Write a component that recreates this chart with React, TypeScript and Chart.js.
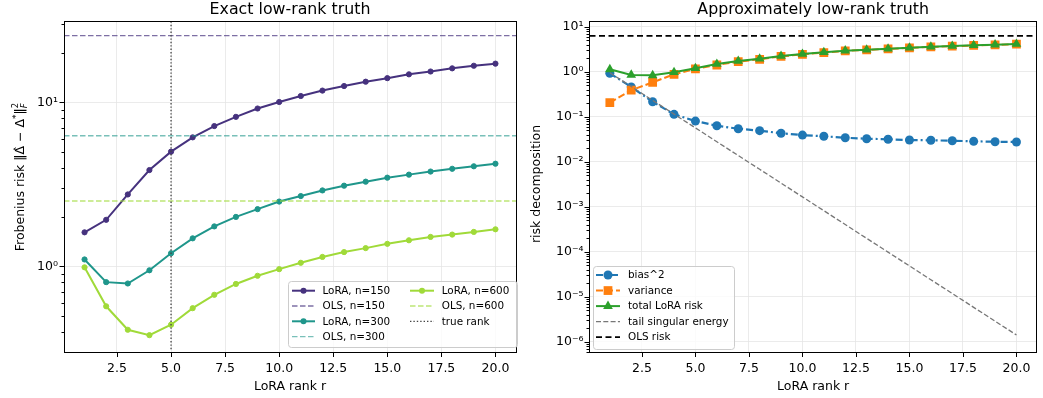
import React, { useEffect, useRef } from "react";
import { Chart, registerables } from "chart.js";

Chart.register(...registerables);

// ---------------- data ----------------
const ranks = [1, 2, 3, 4, 5, 6, 7, 8, 9, 10, 11, 12, 13, 14, 15, 16, 17, 18, 19, 20];

const loraN150 = [1.61, 1.92, 2.74, 3.86, 5.0, 6.11, 7.16, 8.15, 9.16, 10.04, 10.92, 11.78, 12.56, 13.35, 14.03, 14.8, 15.4, 16.1, 16.7, 17.2];
const loraN300 = [1.1, 0.8, 0.785, 0.945, 1.2, 1.48, 1.75, 2.0, 2.23, 2.48, 2.68, 2.9, 3.1, 3.28, 3.47, 3.62, 3.78, 3.93, 4.07, 4.22];
const loraN600 = [0.985, 0.57, 0.41, 0.38, 0.44, 0.555, 0.67, 0.78, 0.875, 0.96, 1.05, 1.14, 1.22, 1.29, 1.37, 1.44, 1.51, 1.56, 1.62, 1.68];
const olsN150 = 25.5;
const olsN300 = 6.25;
const olsN600 = 2.5;
const trueRank = 5;

const bias2 = [0.92, 0.46, 0.215, 0.113, 0.08, 0.063, 0.054, 0.049, 0.043, 0.039, 0.0367, 0.0341, 0.0324, 0.0315, 0.0303, 0.0299, 0.0293, 0.0284, 0.0278, 0.0274];
const variance = [0.205, 0.39, 0.58, 0.875, 1.15, 1.41, 1.68, 1.89, 2.19, 2.43, 2.66, 2.9, 3.05, 3.21, 3.38, 3.56, 3.69, 3.83, 3.95, 4.1];
const totalRisk = [1.13, 0.85, 0.83, 0.97, 1.19, 1.48, 1.73, 1.94, 2.23, 2.47, 2.7, 2.93, 3.08, 3.24, 3.41, 3.59, 3.72, 3.86, 3.98, 4.13];
const tailEnergy = [0.95, 0.469, 0.231, 0.114, 0.0564, 0.0278, 0.0137, 0.00678, 0.00335, 0.00165, 8.15e-4, 4.02e-4, 1.98e-4, 9.79e-5, 4.83e-5, 2.38e-5, 1.18e-5, 5.8e-6, 2.86e-6, 1.41e-6];
const olsRisk = 6.25;

const xTickValues = [2.5, 5, 7.5, 10, 12.5, 15, 17.5, 20];
const xMin = 0.05;
const xMax = 20.95;
const leftYMin = 0.312;
const leftYMax = 31.3;
const rightYMin = 5.9e-7;
const rightYMax = 13.4;

// ---------------- helpers ----------------
const FONT = "'DejaVu Sans', sans-serif";
const GRID = "#e6e6e6";

const c150 = "#46327e";
const c300 = "#1f968b";
const c600 = "#a0da39";
const c150a = "rgba(70,50,126,0.7)";
const c300a = "rgba(31,150,139,0.6)";
const c600a = "rgba(160,218,57,0.7)";
const cBlue = "#1f77b4";
const cOrange = "#ff7f0e";
const cGreen = "#2ca02c";

function isPow10(v: number) {
  const l = Math.log10(v);
  return Math.abs(l - Math.round(l)) < 1e-6;
}
const SUP: Record<string, string> = { "-": "\u207B", "0": "\u2070", "1": "\u00B9", "2": "\u00B2", "3": "\u00B3", "4": "\u2074", "5": "\u2075", "6": "\u2076", "7": "\u2077", "8": "\u2078", "9": "\u2079" };
function powLabel(v: number) {
  const e = Math.round(Math.log10(v));
  return "10" + String(e).split("").map((ch) => SUP[ch]).join("");
}
function logTicks(min: number, max: number) {
  const out: number[] = [];
  for (let e = Math.floor(Math.log10(min)); e <= Math.ceil(Math.log10(max)); e++) {
    for (let m = 1; m <= 9; m++) {
      const v = m * Math.pow(10, e);
      if (v >= min && v <= max) out.push(v);
    }
  }
  return out;
}
const pts = (ys: number[]) => ranks.map((r, i) => ({ x: r, y: ys[i] }));
const hline = (y: number) => [{ x: xMin, y }, { x: xMax, y }];

type Part = { t: string; size?: number; dy?: number; italic?: boolean; stack?: Part };

function drawParts(ctx: CanvasRenderingContext2D, parts: Part[], cx: number, cy: number, rotate: boolean) {
  ctx.save();
  ctx.translate(cx, cy);
  if (rotate) ctx.rotate(-Math.PI / 2);
  ctx.textBaseline = "alphabetic";
  ctx.textAlign = "left";
  ctx.fillStyle = "#000";
  const fontOf = (p: Part) => `${p.italic ? "italic " : ""}${p.size ?? 12.5}px ${FONT}`;
  const widths = parts.map((p) => {
    ctx.font = fontOf(p);
    let w = ctx.measureText(p.t).width;
    if (p.stack) {
      ctx.font = fontOf(p.stack);
      w = Math.max(w, ctx.measureText(p.stack.t).width);
    }
    return w;
  });
  const total = widths.reduce((a, b) => a + b, 0);
  let x = -total / 2;
  parts.forEach((p, i) => {
    ctx.font = fontOf(p);
    ctx.fillText(p.t, x, p.dy ?? 0);
    if (p.stack) {
      ctx.font = fontOf(p.stack);
      ctx.fillText(p.stack.t, x, p.stack.dy ?? 0);
    }
    x += widths[i];
  });
  ctx.restore();
}

function drawMarker(ctx: CanvasRenderingContext2D, kind: string, x: number, y: number, r: number, color: string) {
  ctx.fillStyle = color;
  ctx.beginPath();
  if (kind === "circle") ctx.arc(x, y, r, 0, Math.PI * 2);
  else if (kind === "rect") {
    const s = r * Math.SQRT1_2;
    ctx.rect(x - s, y - s, 2 * s, 2 * s);
  } else if (kind === "triangle") {
    ctx.moveTo(x, y - r);
    ctx.lineTo(x + r * Math.sin((2 * Math.PI) / 3), y - r * Math.cos((2 * Math.PI) / 3));
    ctx.lineTo(x + r * Math.sin((4 * Math.PI) / 3), y - r * Math.cos((4 * Math.PI) / 3));
    ctx.closePath();
  }
  ctx.fill();
}

type LegItem = { label: string; color: string; width: number; dash: number[]; marker?: string; r?: number };
type LegCol = { hx0: number; hx1: number; tx: number; items: LegItem[] };
type Legend = { box: { x: number; y: number; w: number; h: number }; y0: number; step: number; cols: LegCol[] };

function drawLegend(ctx: CanvasRenderingContext2D, lg: Legend) {
  ctx.save();
  const { x, y, w, h } = lg.box;
  ctx.beginPath();
  (ctx as any).roundRect(x + 0.5, y + 0.5, w, h, 3);
  ctx.fillStyle = "rgba(255,255,255,0.8)";
  ctx.fill();
  ctx.strokeStyle = "#cccccc";
  ctx.lineWidth = 1;
  ctx.stroke();
  lg.cols.forEach((col) => {
    col.items.forEach((it, i) => {
      const yy = lg.y0 + i * lg.step;
      ctx.save();
      ctx.strokeStyle = it.color;
      ctx.lineWidth = it.width;
      ctx.setLineDash(it.dash);
      ctx.beginPath();
      ctx.moveTo(col.hx0, yy);
      ctx.lineTo(col.hx1, yy);
      ctx.stroke();
      ctx.restore();
      if (it.marker) drawMarker(ctx, it.marker, (col.hx0 + col.hx1) / 2, yy, it.r ?? 3, it.color);
      ctx.fillStyle = "#000";
      ctx.font = `10.4px ${FONT}`;
      ctx.textBaseline = "middle";
      ctx.textAlign = "left";
      ctx.fillText(it.label, col.tx, yy + 0.5);
    });
  });
  ctx.restore();
}

const decoPlugin = {
  id: "deco",
  afterDraw(chart: any, _args: any, opts: any) {
    const { ctx, chartArea: a } = chart;
    const xs = chart.scales.x;
    const ys = chart.scales.y;
    ctx.save();
    ctx.strokeStyle = "#000";
    ctx.lineWidth = 1;
    ctx.setLineDash([]);
    ctx.beginPath();
    xs.ticks.forEach((t: any) => {
      const px = Math.round(xs.getPixelForValue(t.value)) + 0.5;
      ctx.moveTo(px, Math.floor(a.bottom));
      ctx.lineTo(px, Math.floor(a.bottom) + 5);
    });
    ys.ticks.forEach((t: any) => {
      const py = Math.round(ys.getPixelForValue(t.value)) + 0.5;
      const len = isPow10(t.value) ? 4.5 : 2.5;
      ctx.moveTo(Math.floor(a.left) - len, py);
      ctx.lineTo(Math.floor(a.left), py);
    });
    ctx.stroke();
    const l = Math.floor(a.left) + 0.5;
    const r = Math.floor(a.right) + 0.5;
    const t = Math.floor(a.top) + 0.5;
    const b = Math.floor(a.bottom) + 0.5;
    ctx.strokeRect(l, t, r - l, b - t);

    const cx = (a.left + a.right) / 2;
    ctx.fillStyle = "#000";
    ctx.textAlign = "center";
    ctx.textBaseline = "alphabetic";
    ctx.font = `15.8px ${FONT}`;
    ctx.fillText(opts.title, cx, 13.5);
    ctx.font = `12.5px ${FONT}`;
    ctx.fillText(opts.xLabel, cx, 389.5);
    drawParts(ctx, opts.yLabel, opts.yLabelX, opts.yLabelY, true);
    drawLegend(ctx, opts.legend);
    ctx.restore();
  },
};

function makeOptions(cfg: { yMin: number; yMax: number; yWidth: number; padRight: number; deco: any }) {
  const yTicks = logTicks(cfg.yMin, cfg.yMax);
  return {
    responsive: false,
    maintainAspectRatio: false,
    animation: false,
    devicePixelRatio: 1,
    layout: { padding: { left: 0, top: 21, right: cfg.padRight, bottom: 0 } },
    plugins: { legend: { display: false }, tooltip: { enabled: false }, title: { display: false }, deco: cfg.deco },
    scales: {
      x: {
        type: "linear",
        min: xMin,
        max: xMax,
        afterBuildTicks: (s: any) => {
          s.ticks = xTickValues.map((v) => ({ value: v }));
        },
        afterFit: (s: any) => {
          s.height = 46;
        },
        grid: { color: GRID, lineWidth: 0.8, drawTicks: false },
        border: { display: false },
        ticks: {
          padding: 9,
          autoSkip: false,
          maxRotation: 0,
          color: "#000",
          font: { family: FONT, size: 12.5 },
          callback: (v: any) => Number(v).toFixed(1),
        },
      },
      y: {
        type: "logarithmic",
        min: cfg.yMin,
        max: cfg.yMax,
        afterBuildTicks: (s: any) => {
          s.ticks = yTicks.map((v) => ({ value: v }));
        },
        afterFit: (s: any) => {
          s.width = cfg.yWidth;
        },
        grid: {
          color: (c: any) => (c.tick && isPow10(c.tick.value) ? GRID : "rgba(0,0,0,0)"),
          lineWidth: 0.8,
          drawTicks: false,
        },
        border: { display: false },
        ticks: {
          padding: 6,
          autoSkip: false,
          color: "#000",
          font: { family: FONT, size: 12.5 },
          callback: (v: any) => (isPow10(Number(v)) ? powLabel(Number(v)) : ""),
        },
      },
    },
  };
}

const leftYLabel: Part[] = [
  { t: "Frobenius risk " },
  { t: "\u2016" },
  { t: "\u0394\u0302" },
  { t: " \u2212 " },
  { t: "\u0394" },
  { t: "*", size: 9, dy: -5 },
  { t: "\u2016" },
  { t: "2", size: 8.5, dy: -6, stack: { t: "F", size: 8.5, dy: 3, italic: true } },
];

function App() {
  const leftRef = useRef<HTMLCanvasElement>(null);
  const rightRef = useRef<HTMLCanvasElement>(null);

  useEffect(() => {
    const lineDs = (ys: number[], color: string, i: number) => ({
      data: pts(ys),
      borderColor: color,
      backgroundColor: color,
      borderWidth: 2,
      pointRadius: 2.6,
      pointBorderWidth: 1,
      pointBorderColor: color,
      pointBackgroundColor: color,
      order: 100 - i,
    });
    const dashDs = (y: number, color: string, i: number) => ({
      data: hline(y),
      borderColor: color,
      borderWidth: 1.3,
      borderDash: [5.5, 2.5],
      pointRadius: 0,
      order: 100 - i,
    });

    const left = new Chart(leftRef.current!, {
      type: "line",
      data: {
        datasets: [
          lineDs(loraN150, c150, 0),
          dashDs(olsN150, c150a, 1),
          lineDs(loraN300, c300, 2),
          dashDs(olsN300, c300a, 3),
          lineDs(loraN600, c600, 4),
          dashDs(olsN600, c600a, 5),
          {
            data: [{ x: trueRank, y: leftYMin }, { x: trueRank, y: leftYMax }],
            borderColor: "#444",
            borderWidth: 1.3,
            borderDash: [1.4, 2],
            pointRadius: 0,
            order: 100 - 6,
          },
        ] as any,
      },
      options: makeOptions({
        yMin: leftYMin,
        yMax: leftYMax,
        yWidth: 64,
        padRight: 1.5,
        deco: {
          title: "Exact low-rank truth",
          xLabel: "LoRA rank r",
          yLabel: leftYLabel,
          yLabelX: 24,
          yLabelY: 177,
          legend: {
            box: { x: 288, y: 281, w: 229, h: 66 },
            y0: 290.7,
            step: 15.3,
            cols: [
              {
                hx0: 292, hx1: 315, tx: 322.5,
                items: [
                  { label: "LoRA, n=150", color: c150, width: 2, dash: [], marker: "circle", r: 3 },
                  { label: "OLS, n=150", color: c150a, width: 1.3, dash: [5.5, 2.5] },
                  { label: "LoRA, n=300", color: c300, width: 2, dash: [], marker: "circle", r: 3 },
                  { label: "OLS, n=300", color: c300a, width: 1.3, dash: [5.5, 2.5] },
                ],
              },
              {
                hx0: 410, hx1: 434, tx: 441.7,
                items: [
                  { label: "LoRA, n=600", color: c600, width: 2, dash: [], marker: "circle", r: 3 },
                  { label: "OLS, n=600", color: c600a, width: 1.3, dash: [5.5, 2.5] },
                  { label: "true rank", color: "#444", width: 1.3, dash: [1.4, 2] },
                ],
              },
            ],
          },
        },
      }) as any,
      plugins: [decoPlugin],
    });

    const right = new Chart(rightRef.current!, {
      type: "line",
      data: {
        datasets: [
          {
            data: pts(bias2),
            borderColor: cBlue,
            backgroundColor: cBlue,
            borderWidth: 2.2,
            borderDash: [7, 3, 2, 3],
            pointRadius: 4.5,
            pointBorderWidth: 0,
            pointBackgroundColor: cBlue,
            order: 10,
          },
          {
            data: pts(variance),
            borderColor: cOrange,
            backgroundColor: cOrange,
            borderWidth: 2,
            borderDash: [7, 3],
            pointStyle: "rect",
            pointRadius: 6.2,
            pointBorderWidth: 0,
            pointBackgroundColor: cOrange,
            order: 9,
          },
          {
            data: pts(totalRisk),
            borderColor: cGreen,
            backgroundColor: cGreen,
            borderWidth: 2,
            pointStyle: "triangle",
            pointRadius: 5.6,
            pointBorderWidth: 0,
            pointBackgroundColor: cGreen,
            order: 8,
          },
          {
            data: pts(tailEnergy),
            borderColor: "#777777",
            borderWidth: 1.3,
            borderDash: [5, 2.3],
            pointRadius: 0,
            order: 7,
          },
          {
            data: hline(olsRisk),
            borderColor: "#000",
            borderWidth: 1.8,
            borderDash: [6, 3.5],
            pointRadius: 0,
            order: 6,
          },
        ] as any,
      },
      options: makeOptions({
        yMin: rightYMin,
        yMax: rightYMax,
        yWidth: 68.5,
        padRight: 2.5,
        deco: {
          title: "Approximately low-rank truth",
          xLabel: "LoRA rank r",
          yLabel: [{ t: "risk decomposition" }],
          yLabelX: 18.5,
          yLabelY: 184,
          legend: {
            box: { x: 72, y: 266, w: 141, h: 83 },
            y0: 275,
            step: 15.55,
            cols: [
              {
                hx0: 75, hx1: 99, tx: 107,
                items: [
                  { label: "bias^2", color: cBlue, width: 2.2, dash: [7, 3, 2, 3], marker: "circle", r: 4.5 },
                  { label: "variance", color: cOrange, width: 2, dash: [7, 3], marker: "rect", r: 6.2 },
                  { label: "total LoRA risk", color: cGreen, width: 2, dash: [], marker: "triangle", r: 5.6 },
                  { label: "tail singular energy", color: "#777777", width: 1.3, dash: [5, 2.3] },
                  { label: "OLS risk", color: "#000", width: 1.8, dash: [6, 3.5] },
                ],
              },
            ],
          },
        },
      }) as any,
      plugins: [decoPlugin],
    });

    return () => {
      left.destroy();
      right.destroy();
    };
  }, []);

  return (
    <div style={{ position: "absolute", left: 0, top: 0, width: 1043, height: 398, background: "#fff" }}>
      <canvas ref={leftRef} width={521} height={398} style={{ position: "absolute", left: 0, top: 0, width: 521, height: 398 }} />
      <canvas ref={rightRef} width={522} height={398} style={{ position: "absolute", left: 521, top: 0, width: 522, height: 398 }} />
    </div>
  );
}

export default App;
